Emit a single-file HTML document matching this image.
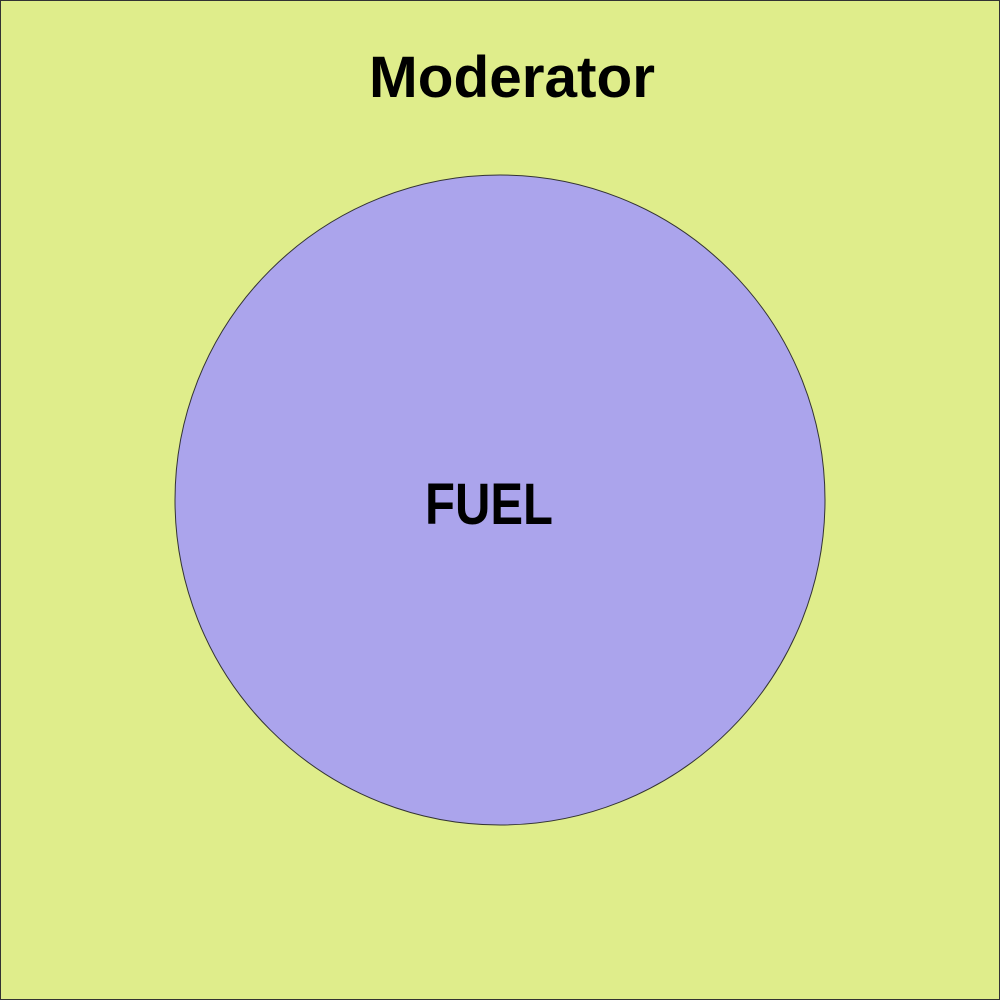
<!DOCTYPE html>
<html>
<head>
<meta charset="utf-8">
<style>
  html,body{margin:0;padding:0;width:1000px;height:1000px;overflow:hidden;background:#dfed8b;}
  svg{display:block;}
</style>
</head>
<body>
<svg width="1000" height="1000" viewBox="0 0 1000 1000">
  <rect x="0.5" y="0.5" width="999" height="999" fill="#dfed8b" stroke="#333" stroke-width="1"/>
  <text x="512" y="97" text-anchor="middle" font-family="'Liberation Sans', sans-serif" font-weight="bold" font-size="58" textLength="286" lengthAdjust="spacingAndGlyphs" fill="#000">Moderator</text>
  <circle cx="500" cy="500" r="325" fill="#aba4ec" stroke="#333" stroke-width="1"/>
  <text x="489" y="524" text-anchor="middle" font-family="'Liberation Sans', sans-serif" font-weight="bold" font-size="58" textLength="128" lengthAdjust="spacingAndGlyphs" fill="#000">FUEL</text>
</svg>
</body>
</html>
